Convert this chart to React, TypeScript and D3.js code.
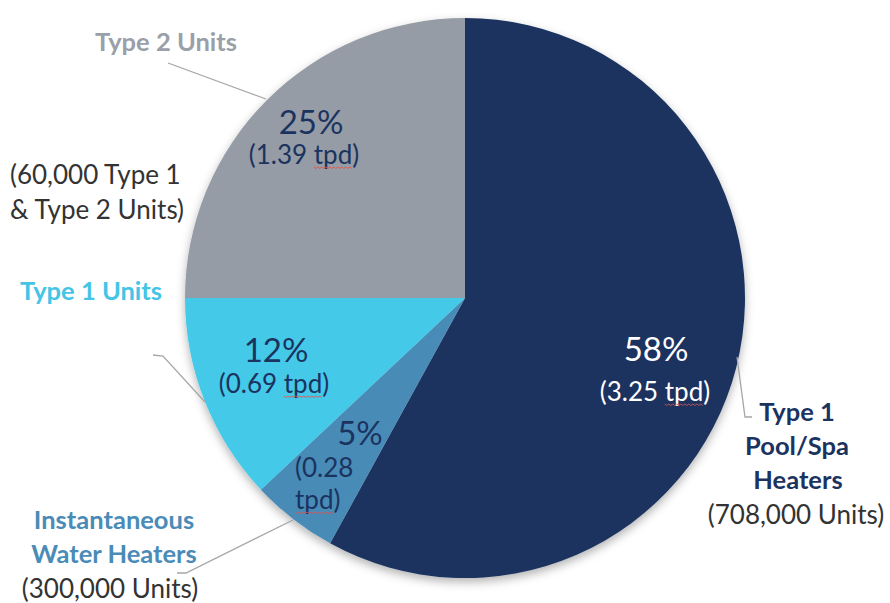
import React, { useEffect, useRef } from "react";
import * as d3 from "d3";

// slices, clockwise from 12 o'clock
const categories = [
  "Type 1 Pool/Spa Heaters",
  "Instantaneous Water Heaters",
  "Type 1 Units",
  "Type 2 Units",
];
const shares = [58, 5, 12, 25];
const tpd = ["3.25", "0.28", "0.69", "1.39"];
const sliceColors = ["#1b335f", "#4a8bb7", "#45c9e8", "#959ca6"];

const W = 890;
const H = 603;
const cx = 465;
const cy = 298;
const radius = 280;
const FONT = "Lato, 'Open Sans', sans-serif";
const NAVY = "#1b335f";
const PCT = 33;
const SUB = 26;
const BOLD = 25.5;

export default function App() {
  const svgRef = useRef<SVGSVGElement>(null);

  const pie = d3
    .pie<number>()
    .sort(null)
    .value((d) => d)
    .startAngle(0)
    .endAngle(2 * Math.PI);
  const arcs = pie(shares);
  const arc = d3.arc<d3.PieArcDatum<number>>().innerRadius(0).outerRadius(radius);

  // spell-check squiggles under "tpd"
  useEffect(() => {
    if (!svgRef.current) return;
    const svg = d3.select(svgRef.current);
    svg.selectAll(".squiggle").remove();
    svg.selectAll<SVGTSpanElement, unknown>("tspan.tpd").each(function () {
      const b = this.getBBox();
      const y0 = b.y + b.height - 3;
      const pts: [number, number][] = [];
      for (let x = b.x; x <= b.x + b.width; x += 2) {
        pts.push([x, y0 + ((Math.round((x - b.x) / 2) % 2) ? 1.5 : 0)]);
      }
      svg
        .append("path")
        .attr("class", "squiggle")
        .attr("d", d3.line()(pts))
        .attr("fill", "none")
        .attr("stroke", "#d9534f")
        .attr("stroke-width", 0.9);
    });
  }, []);

  const pct = (i: number) => `${shares[i]}%`;
  const tp = (i: number) => (
    <>
      ({tpd[i]} <tspan className="tpd">tpd</tspan>)
    </>
  );

  return (
    <svg
      ref={svgRef}
      width={W}
      height={H}
      style={{ position: "absolute", left: 0, top: 0, fontFamily: FONT }}
    >
      <defs>
        <filter id="shadow" x="-10%" y="-10%" width="120%" height="120%">
          <feDropShadow dx="0" dy="4" stdDeviation="5" floodColor="#000" floodOpacity="0.3" />
        </filter>
      </defs>
      <rect width={W} height={H} fill="#fff" />

      <g transform={`translate(${cx},${cy})`} filter="url(#shadow)">
        {arcs.map((a, i) => (
          <path key={categories[i]} d={arc(a) || ""} fill={sliceColors[i]} />
        ))}
      </g>

      {/* leader lines */}
      <g fill="none" stroke="#a6a6a6" strokeWidth={1.3}>
        <polyline points="168,63 266,99" />
        <polyline points="153,355 163,356 205,402" />
        <polyline points="177,573 186,573 293,520" />
        <polyline points="737,357 745,417 752,417" />
      </g>

      {/* in-slice labels */}
      <g fill={NAVY} textAnchor="middle">
        <text x={311} y={134} fontSize={PCT}>{pct(3)}</text>
        <text x={304} y={164} fontSize={SUB}>{tp(3)}</text>
        <text x={276} y={362} fontSize={PCT}>{pct(2)}</text>
        <text x={274} y={393} fontSize={SUB}>{tp(2)}</text>
        <text x={360} y={445} fontSize={PCT}>{pct(1)}</text>
        <text x={295} y={477} fontSize={SUB} textAnchor="start">{`(${tpd[1]}`}</text>
        <text x={295} y={509} fontSize={SUB} textAnchor="start">
          <tspan className="tpd">tpd</tspan>)
        </text>
      </g>
      <g fill="#fff" textAnchor="middle">
        <text x={656} y={361} fontSize={PCT}>{pct(0)}</text>
        <text x={655} y={401} fontSize={SUB}>{tp(0)}</text>
      </g>

      {/* outside labels */}
      <text x={166} y={51} fontSize={BOLD} fontWeight={700} fill="#9aa0a9" textAnchor="middle">
        Type 2 Units
      </text>
      <g fill="#333" fontSize={SUB}>
        <text x={10} y={184}>(60,000 Type 1</text>
        <text x={10} y={219}>&amp; Type 2 Units)</text>
      </g>
      <text x={91} y={300} fontSize={BOLD} fontWeight={700} fill="#45c4e6" textAnchor="middle">
        Type 1 Units
      </text>

      <g fontSize={BOLD} fontWeight={700} fill="#4a8bb7" textAnchor="middle">
        <text x={114} y={529}>Instantaneous</text>
        <text x={114} y={563}>Water Heaters</text>
      </g>
      <text x={110} y={598} fontSize={SUB} fill="#333" textAnchor="middle">
        (300,000 Units)
      </text>

      <g fontSize={BOLD} fontWeight={700} fill={NAVY} textAnchor="middle">
        <text x={797} y={421}>Type 1</text>
        <text x={797} y={455}>Pool/Spa</text>
        <text x={798} y={489}>Heaters</text>
      </g>
      <text x={796} y={524} fontSize={SUB} fill="#333" textAnchor="middle">
        (708,000 Units)
      </text>
    </svg>
  );
}
